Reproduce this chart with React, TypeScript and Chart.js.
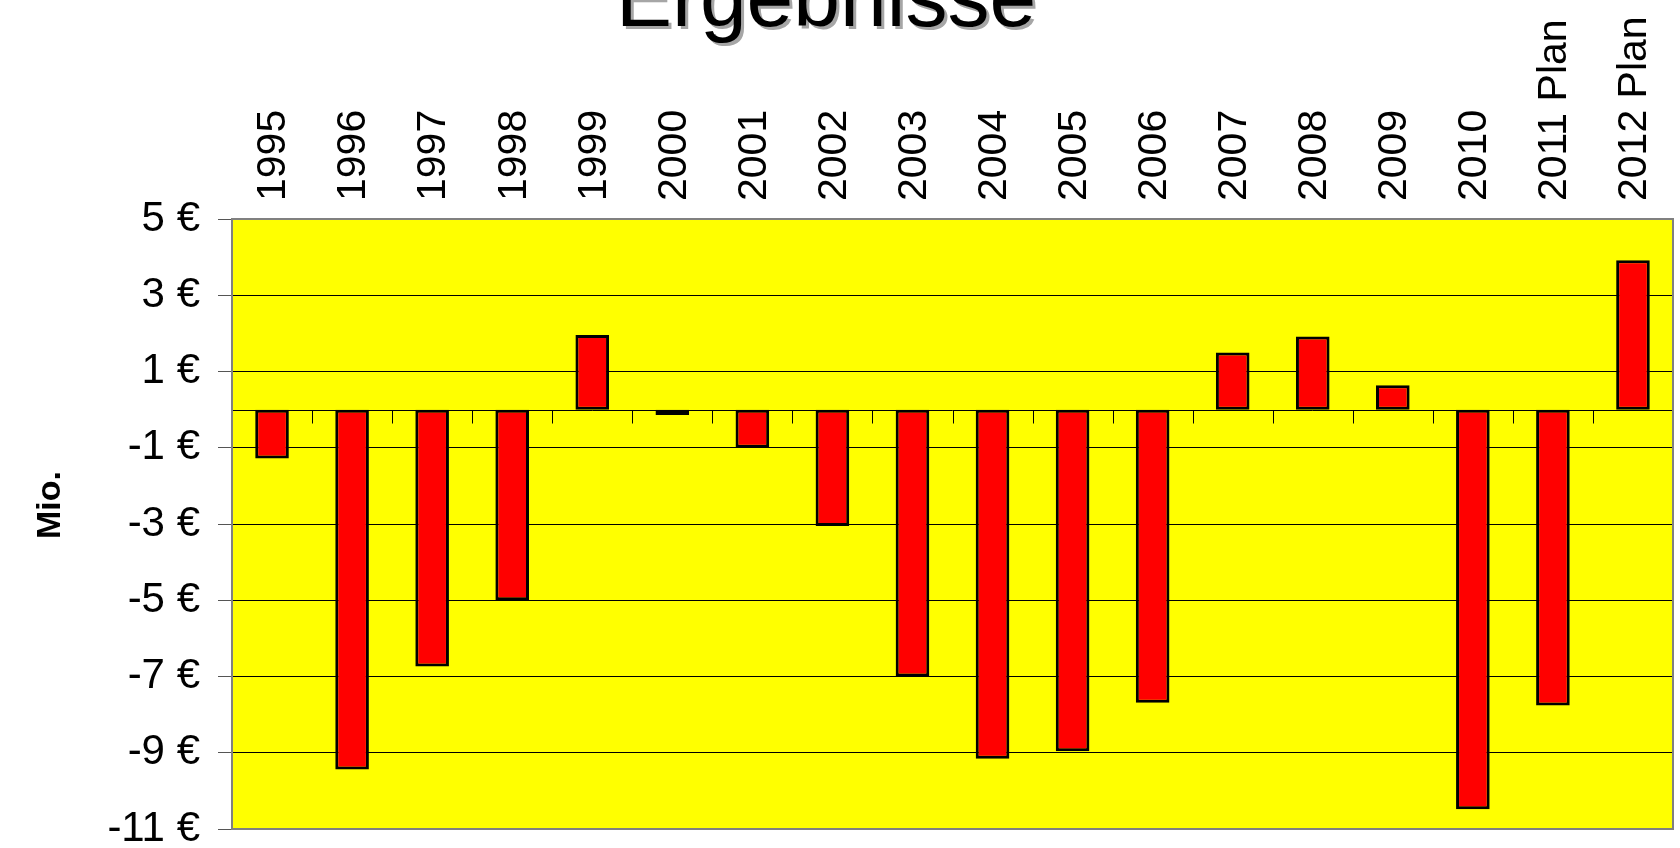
import React, { useEffect, useRef } from "react";
import { Chart, registerables } from "chart.js";

Chart.register(...registerables);

const categories = [
  "1995", "1996", "1997", "1998", "1999", "2000", "2001", "2002", "2003",
  "2004", "2005", "2006", "2007", "2008", "2009", "2010", "2011 Plan", "2012 Plan",
];
const results = [
  -1.28, -9.44, -6.74, -5.0, 1.96, -0.14, -1.0, -3.05, -7.0,
  -9.16, -8.96, -7.69, 1.5, 1.92, 0.64, -10.48, -7.76, 3.92,
];
const yTicks = [5, 3, 1, -1, -3, -5, -7, -9, -11];
const titleText = "Ergebnisse";
const yTitleText = "Mio.";

const FAMILY = "'Liberation Sans', Arial, Helvetica, sans-serif";

const plotBackground = {
  id: "plotBackground",
  beforeDraw(chart: any) {
    const { ctx, chartArea: a } = chart;
    ctx.save();
    ctx.fillStyle = "#FFFF00";
    ctx.fillRect(a.left, a.top, a.right - a.left, a.bottom - a.top);
    ctx.restore();
  },
};

const zeroAxis = {
  id: "zeroAxis",
  beforeDatasetsDraw(chart: any) {
    const { ctx, chartArea: a, scales } = chart;
    const x = scales.x;
    const y0 = Math.round(scales.y.getPixelForValue(0)) + 0.5;
    ctx.save();
    ctx.strokeStyle = "#000";
    ctx.lineWidth = 1;
    ctx.beginPath();
    ctx.moveTo(a.left, y0);
    ctx.lineTo(a.right, y0);
    const n = categories.length;
    const step = (x.getPixelForTick(n - 1) - x.getPixelForTick(0)) / (n - 1);
    for (let i = 0; i <= n; i++) {
      const px = Math.round(x.getPixelForTick(0) + (i - 0.5) * step) + 0.5;
      ctx.moveTo(px, y0);
      ctx.lineTo(px, y0 + 13);
    }
    ctx.stroke();
    ctx.restore();
  },
};

const frame = {
  id: "frame",
  afterDatasetsDraw(chart: any) {
    const { ctx, chartArea: a } = chart;
    ctx.save();
    ctx.strokeStyle = "#808080";
    ctx.lineWidth = 2;
    ctx.strokeRect(a.left, a.top, a.right - a.left, a.bottom - a.top);
    ctx.restore();
  },
};

const texts = {
  id: "texts",
  afterDraw(chart: any) {
    const { ctx, chartArea: a, scales } = chart;
    const x = scales.x;
    ctx.save();
    // category labels, rotated, above the plot
    ctx.font = `41px ${FAMILY}`;
    ctx.fillStyle = "#000";
    ctx.textAlign = "left";
    ctx.textBaseline = "middle";
    categories.forEach((lab, i) => {
      ctx.save();
      ctx.translate(x.getPixelForTick(i) + 2, a.top - 18);
      ctx.rotate(-Math.PI / 2);
      ctx.fillText(lab, 0, 0);
      ctx.restore();
    });

    ctx.font = `84px ${FAMILY}`;
    ctx.textAlign = "center";
    ctx.textBaseline = "alphabetic";
    ctx.fillStyle = "#a6a6a6";
    ctx.fillText(titleText, 829, 29);
    ctx.fillStyle = "#000";
    ctx.fillText(titleText, 826, 26);

    ctx.translate(51, 505);
    ctx.rotate(-Math.PI / 2);
    ctx.font = `bold 34px ${FAMILY}`;
    ctx.textBaseline = "middle";
    ctx.fillText(yTitleText, 0, 0);
    ctx.restore();
  },
};

export default function App() {
  const ref = useRef<HTMLCanvasElement | null>(null);

  useEffect(() => {
    if (!ref.current) return;
    const chart = new Chart(ref.current, {
      type: "bar",
      data: {
        labels: categories,
        datasets: [
          {
            data: results,
            backgroundColor: "#FF0000",
            borderColor: "#000000",
            borderWidth: 3,
            borderSkipped: false,
            barPercentage: 0.42,
            categoryPercentage: 1,
          },
        ],
      },
      options: {
        responsive: false,
        animation: false,
        layout: { padding: { left: 100, right: 7, top: 0, bottom: 19 } },
        plugins: {
          legend: { display: false },
          title: { display: false },
          tooltip: { enabled: false },
        },
        scales: {
          x: {
            position: "top",
            offset: true,
            grid: { display: false, drawTicks: false },
            border: { display: false },
            ticks: { display: false, autoSkip: false },
            afterFit: (s: any) => {
              s.height = 219;
              s.paddingLeft = 0;
              s.paddingRight = 0;
              s.paddingTop = 0;
              s.paddingBottom = 0;
            },
          },
          y: {
            min: -11,
            max: 5,
            afterBuildTicks: (s: any) => {
              s.ticks = yTicks.map((v) => ({ value: v }));
            },
            ticks: {
              font: { size: 42, family: FAMILY },
              color: "#000",
              padding: 18,
              callback: (v: any) => `${v} €`,
            },
            grid: {
              color: "#000",
              lineWidth: 1,
              drawTicks: true,
              tickLength: 14,
              tickColor: "#555",
            },
            border: { color: "#808080", width: 2 },
            afterFit: (s: any) => {
              s.width = 132;
              s.paddingTop = 0;
              s.paddingBottom = 0;
              s.paddingLeft = 0;
              s.paddingRight = 0;
            },
          },
        },
      },
      plugins: [plotBackground, zeroAxis, frame, texts],
    });
    return () => chart.destroy();
  }, []);

  return (
    <div style={{ position: "absolute", left: 0, top: 0, width: 1680, height: 848, background: "#fff" }}>
      <canvas ref={ref} width={1680} height={848} style={{ width: 1680, height: 848, display: "block" }} />
    </div>
  );
}
